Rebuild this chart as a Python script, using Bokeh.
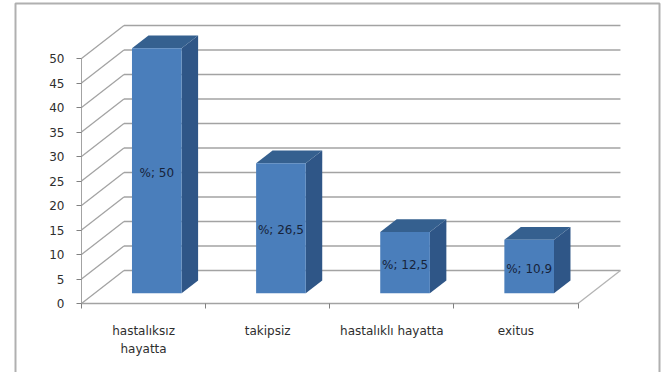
from bokeh.core.properties import value
from bokeh.embed import file_html
from bokeh.models import FixedTicker, Range1d
from bokeh.plotting import figure
from bokeh.resources import INLINE

categories = ["hastalıksız\nhayatta", "takipsiz", "hastalıklı hayatta", "exitus"]
values = [50, 26.5, 12.5, 10.9]
labels = ["%; 50", "%; 26,5", "%; 12,5", "%; 10,9"]
y_ticks = [0, 5, 10, 15, 20, 25, 30, 35, 40, 45, 50]

FONT = "DejaVu Sans"
TEXT = "#2e2e2e"
GRID = "#a3a3a3"
FRONT, SIDE, TOP = "#4a7ebb", "#2f5687", "#35608f"

# Scale of the plot: pixels per category slot and per value unit
SLOT_PX, UNIT_PX = 124.125, 4.9
ORIGIN_X, ORIGIN_Y = 81, 303
WIDTH, HEIGHT = 671, 372

# Oblique projection: depth 1 is the back wall of the 3D box
DEPTH_X = 0.342
DEPTH_Y = 6.73
BAR_W = 0.40
BAR_NEAR, BAR_FAR = 0.312, 0.70


def proj(x, y, d):
    return x + d * DEPTH_X, y + d * DEPTH_Y


p = figure(
    width=WIDTH, height=HEIGHT, min_border=0,
    x_range=Range1d(-ORIGIN_X / SLOT_PX, (WIDTH - ORIGIN_X) / SLOT_PX),
    y_range=Range1d(-(HEIGHT - ORIGIN_Y) / UNIT_PX, ORIGIN_Y / UNIT_PX),
    output_backend="svg", toolbar_location=None,
    outline_line_color=None, background_fill_color="white", border_fill_color="white",
)
p.grid.visible = False

# Value axis on the front-left edge
ya = p.yaxis[0]
ya.fixed_location = 0
ya.ticker = FixedTicker(ticks=y_ticks, minor_ticks=[])
ya.bounds = (0, 50)
ya.axis_line_color = GRID
ya.major_tick_line_color = "#808080"
ya.major_tick_in = 0
ya.major_tick_out = 5
ya.major_label_standoff = 12
ya.major_label_text_font = FONT
ya.major_label_text_font_size = "12px"
ya.major_label_text_color = TEXT

# Category axis: labels centred on each slot, ticks on the slot boundaries
n = len(categories)
xa = p.xaxis[0]
xa.fixed_location = 0
xa.ticker = FixedTicker(ticks=[i + 0.5 for i in range(n)], minor_ticks=list(range(n + 1)))
xa.major_label_overrides = {i + 0.5: c for i, c in enumerate(categories)}
xa.bounds = (0, n)
xa.axis_line_color = GRID
xa.axis_line_width = 1.5
xa.major_tick_in = 0
xa.major_tick_out = 0
xa.minor_tick_in = 0
xa.minor_tick_out = 5
xa.minor_tick_line_color = "#808080"
xa.major_label_standoff = 15
xa.major_label_text_font = FONT
xa.major_label_text_font_size = "12px"
xa.major_label_text_line_height = 1.3
xa.major_label_text_color = TEXT

# Back wall gridlines and their slanted returns along the side wall
bx0, _ = proj(0, 0, 1)
bx1, _ = proj(n, 0, 1)
back_y = [proj(0, v, 1)[1] for v in y_ticks]
p.segment(x0=[bx0] * len(back_y), x1=[bx1] * len(back_y), y0=back_y, y1=back_y,
          line_color=GRID, line_width=1.5)
p.segment(x0=[0] * len(y_ticks), x1=[bx0] * len(y_ticks), y0=y_ticks, y1=back_y,
          line_color=GRID, line_width=1.3)
p.segment(x0=[n], x1=[bx1], y0=[0], y1=[back_y[0]], line_color="#b4b4b4", line_width=1.3)

# Bars as three projected faces
front_x, front_y, side_x, side_y, top_x, top_y = [], [], [], [], [], []
label_x, label_y = [], []
for i, v in enumerate(values):
    xl = i + 0.5 - BAR_W / 2
    xr = i + 0.5 + BAR_W / 2
    corners = [(xl, 0, BAR_NEAR), (xr, 0, BAR_NEAR), (xr, v, BAR_NEAR), (xl, v, BAR_NEAR)]
    f = [proj(*c) for c in corners]
    front_x.append([c[0] for c in f])
    front_y.append([c[1] for c in f])
    s = [proj(xr, 0, BAR_NEAR), proj(xr, 0, BAR_FAR), proj(xr, v, BAR_FAR), proj(xr, v, BAR_NEAR)]
    side_x.append([c[0] for c in s])
    side_y.append([c[1] for c in s])
    t = [proj(xl, v, BAR_NEAR), proj(xr, v, BAR_NEAR), proj(xr, v, BAR_FAR), proj(xl, v, BAR_FAR)]
    top_x.append([c[0] for c in t])
    top_y.append([c[1] for c in t])
    lx, ly = proj(i + 0.5, v / 2, BAR_NEAR)
    label_x.append(lx)
    label_y.append(ly)

p.patches(side_x, side_y, fill_color=SIDE, line_color=None)
p.patches(top_x, top_y, fill_color=TOP, line_color=None)
p.patches(front_x, front_y, fill_color=FRONT, line_color=None)

p.text(x=label_x, y=label_y, text=labels, text_align="center", text_baseline="middle",
       y_offset=2, text_font=value(FONT), text_font_size="12px", text_color="#17233a")

# Chart-area frame: open at the bottom, where it runs off the page
FRAME_L, FRAME_R, FRAME_T, FRAME_B = 15, 659, 3, 390
frame_x = [(px - ORIGIN_X) / SLOT_PX for px in (FRAME_L, FRAME_L, FRAME_R, FRAME_R)]
frame_y = [(ORIGIN_Y - py) / UNIT_PX for py in (FRAME_B, FRAME_T, FRAME_T, FRAME_B)]
p.line(frame_x, frame_y, line_color="#b0b0b0", line_width=2)

open("out.html", "w").write(file_html(p, INLINE))
